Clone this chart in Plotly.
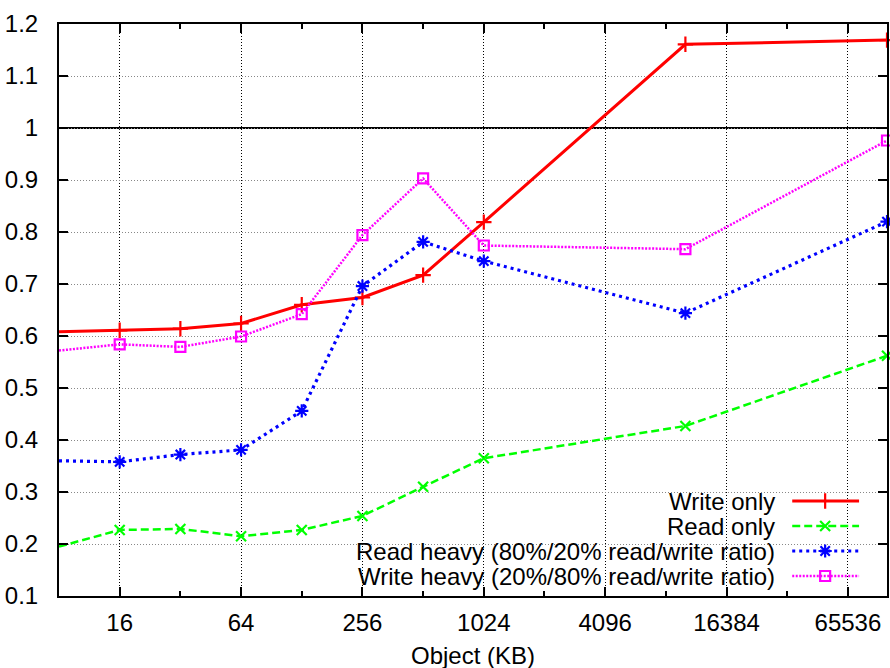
import math
import plotly.graph_objects as go

# ---- data ----
object_kb = [8, 16, 32, 64, 128, 256, 512, 1024, 10240, 102400]
write_only = [0.608, 0.611, 0.614, 0.624, 0.660, 0.674, 0.717, 0.819, 1.161, 1.169]
read_only = [0.195, 0.227, 0.229, 0.215, 0.227, 0.254, 0.310, 0.365, 0.427, 0.562]
read_heavy = [0.360, 0.358, 0.372, 0.381, 0.456, 0.696, 0.781, 0.744, 0.644, 0.820]
write_heavy = [0.572, 0.584, 0.579, 0.599, 0.642, 0.794, 0.903, 0.774, 0.767, 0.976]

series_names = [
    "Write only",
    "Read only",
    "Read heavy (80%/20% read/write ratio)",
    "Write heavy (20%/80% read/write ratio)",
]
x_major_ticks = [16, 64, 256, 1024, 4096, 16384, 65536]
x_minor_ticks = [32, 128, 512, 2048, 8192, 32768]
y_ticks = [0.1, 0.2, 0.3, 0.4, 0.5, 0.6, 0.7, 0.8, 0.9, 1.0, 1.1, 1.2]
y_tick_text = ["0.1", "0.2", "0.3", "0.4", "0.5", "0.6", "0.7", "0.8", "0.9", "1", "1.1", "1.2"]

# ---- styles ----
styles = [
    dict(color="#ff0000", dash="solid", width=3, symbol="cross-thin-open", size=11),
    dict(color="#00ff00", dash="8px,4px", width=2.5, symbol="x-thin-open", size=10),
    dict(color="#0000ff", dash="3px,4px", width=3.2, symbol="asterisk-open", size=11),
    dict(color="#ff00ff", dash="2px,1.5px", width=2.5, symbol="square-open", size=10),
]
series_values = [write_only, read_only, read_heavy, write_heavy]

W, H = 890, 668
ML, MR, MT, MB = 59, 1, 24, 72
FONT = "Liberation Sans, Arial, sans-serif"
FS = 24

fig = go.Figure()

for name, vals, st in zip(series_names, series_values, styles):
    fig.add_trace(go.Scatter(
        x=object_kb, y=vals, name=name, mode="lines+markers",
        line=dict(color=st["color"], dash=st["dash"], width=st["width"]),
        marker=dict(symbol=st["symbol"], size=st["size"], color=st["color"],
                    line=dict(color=st["color"], width=2.2)),
        cliponaxis=False, showlegend=False,
    ))

# ---- manual gnuplot-style key (text on left, sample on right) ----
pw = W - ML - MR
ph = H - MT - MB
def px_to_paper_x(px):
    return (px - ML) / pw
def px_to_paper_y(py):
    return (H - MB - py) / ph

key_rows_px = [501, 526, 551, 576]
key_text_right = 778
key_line = (794, 861)
key_mark = 827

for name, st, ry in zip(series_names, styles, key_rows_px):
    yy = px_to_paper_y(ry)
    fig.add_annotation(
        text=name, xref="paper", yref="paper",
        x=px_to_paper_x(key_text_right), y=yy, xanchor="right", yanchor="middle",
        showarrow=False, borderpad=0, font=dict(size=FS, family=FONT, color="black"),
    )
    fig.add_trace(go.Scatter(
        x=[px_to_paper_x(key_line[0]), px_to_paper_x(key_mark), px_to_paper_x(key_line[1])],
        y=[yy, yy, yy], xaxis="x2", yaxis="y2", mode="lines",
        line=dict(color=st["color"], dash=st["dash"], width=st["width"]),
        showlegend=False, hoverinfo="skip", cliponaxis=False,
    ))
    fig.add_trace(go.Scatter(
        x=[px_to_paper_x(key_mark)], y=[yy], xaxis="x2", yaxis="y2", mode="markers",
        marker=dict(symbol=st["symbol"], size=st["size"], color=st["color"],
                    line=dict(color=st["color"], width=2.2)),
        showlegend=False, hoverinfo="skip", cliponaxis=False,
    ))

# white key background hiding grid lines (drawn between grid and traces)
fig.add_shape(type="rect", xref="paper", yref="paper",
              x0=px_to_paper_x(227), x1=1, y0=0, y1=px_to_paper_y(490),
              fillcolor="white", line=dict(width=0), layer="between")

# solid reference line at y = 1
fig.add_shape(type="line", xref="paper", yref="y", x0=0, x1=1, y0=1, y1=1,
              line=dict(color="black", width=2), layer="between")

# axis title as annotation
fig.add_annotation(text="Object (KB)", xref="paper", yref="paper",
                   x=0.5, y=px_to_paper_y(655), xanchor="center", yanchor="middle",
                   showarrow=False, font=dict(size=FS, family=FONT, color="black"))

fig.update_layout(
    width=W, height=H,
    margin=dict(l=ML, r=MR, t=MT, b=MB, pad=0),
    paper_bgcolor="white", plot_bgcolor="white",
    font=dict(family=FONT, size=FS, color="black"),
    showlegend=False,
    xaxis=dict(
        type="log", range=[math.log10(8), math.log10(102400)],
        tickvals=x_major_ticks, ticktext=[str(v) for v in x_major_ticks],
        ticks="inside", ticklen=9, tickwidth=1.5, tickcolor="black",
        showline=True, linecolor="black", linewidth=2, mirror="ticks",
        showgrid=True, gridcolor="black", griddash="1px,2px", gridwidth=1,
        zeroline=False, ticklabelstandoff=4,
        minor=dict(tickvals=x_minor_ticks, ticks="inside", ticklen=5,
                   tickwidth=1.5, tickcolor="black", showgrid=False),
    ),
    yaxis=dict(
        range=[0.1, 1.2], tickvals=y_ticks, ticktext=y_tick_text,
        ticks="inside", ticklen=9, tickwidth=1.5, tickcolor="black",
        showline=True, linecolor="black", linewidth=2, mirror="ticks",
        showgrid=True, gridcolor="#888888", griddash="1px,2px", gridwidth=1,
        zeroline=False, ticklabelstandoff=14,
    ),
    xaxis2=dict(overlaying="x", range=[0, 1], visible=False, showgrid=False),
    yaxis2=dict(overlaying="y", range=[0, 1], visible=False, showgrid=False),
)

fig.write_html("out.html")
